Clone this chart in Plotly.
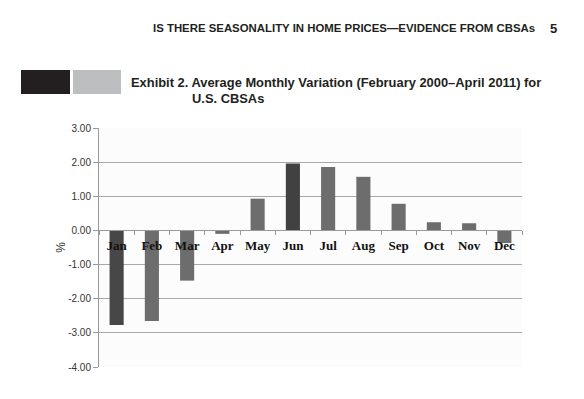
import plotly.graph_objects as go

months = ["Jan", "Feb", "Mar", "Apr", "May", "Jun", "Jul", "Aug", "Sep", "Oct", "Nov", "Dec"]
variation = [-2.77, -2.65, -1.47, -0.10, 0.93, 1.96, 1.86, 1.57, 0.78, 0.24, 0.21, -0.37]
bar_colors = ["#474747", "#6d6d6d", "#6d6d6d", "#6d6d6d", "#6d6d6d", "#414141",
              "#6d6d6d", "#6d6d6d", "#6d6d6d", "#6d6d6d", "#6d6d6d", "#6d6d6d"]
y_ticks = [3, 2, 1, 0, -1, -2, -3, -4]
y_tick_labels = ["3.00", "2.00", "1.00", "0.00", "-1.00", "-2.00", "-3.00", "-4.00"]

header = "IS THERE SEASONALITY IN HOME PRICES—EVIDENCE FROM CBSAs"
page_no = "5"
title_line1 = "Exhibit 2. Average Monthly Variation (February 2000–April 2011) for"
title_line2 = "U.S. CBSAs"

# page body has an 8px margin in the browser; build the figure to fit within it
OFF = 8
W, H = 584 - OFF, 399 - OFF
L, T = 99 - OFF, 128 - OFF
R = W - (522 - OFF)
B = H - (367 - OFF)
PW, PH = W - L - R, H - T - B

def px(x):
    return (x - OFF - L) / PW

def py(y):
    return (H - B - (y - OFF)) / PH

fig = go.Figure()
fig.add_trace(go.Bar(x=months, y=variation, marker=dict(color=bar_colors, line=dict(width=0)),
                     width=0.4, showlegend=False))

fig.update_layout(
    width=W, height=H,
    margin=dict(l=L, r=R, t=T, b=B),
    paper_bgcolor="white",
    plot_bgcolor="#fcfcfc",
    font=dict(family="Liberation Sans", color="#333333"),
    xaxis=dict(
        type="category",
        anchor="free",
        position=4 / 7,
        showline=True, linecolor="#9a9a9a", linewidth=1,
        ticks="outside", ticklen=4, tickcolor="#9a9a9a",
        tickson="boundaries",
        ticklabelstandoff=3,
        tickfont=dict(family="Liberation Serif", size=13, color="#111111", weight="bold"),
        showgrid=False,
        range=[-0.5, 11.5],
    ),
    yaxis=dict(
        range=[-4, 3],
        tickvals=y_ticks,
        ticktext=y_tick_labels,
        showgrid=True, gridcolor="#a8a8a8", gridwidth=1,
        zeroline=False,
        showline=True, linecolor="#9a9a9a", linewidth=1,
        ticks="outside", ticklen=5, tickcolor="#9a9a9a",
        tickfont=dict(size=10, color="#333333"),
        title=dict(text="%", font=dict(size=12, color="#333333"), standoff=0),
    ),
)

shapes = [
    dict(type="rect", xref="paper", yref="paper", x0=px(21), x1=px(70), y0=py(94), y1=py(70),
         fillcolor="#231f20", line=dict(width=0)),
    dict(type="rect", xref="paper", yref="paper", x0=px(73), x1=px(121), y0=py(94), y1=py(70),
         fillcolor="#bcbec0", line=dict(width=0)),
]
fig.update_layout(shapes=shapes)

fig.add_annotation(text=header, xref="paper", yref="paper", x=px(537), y=py(28),
                   xanchor="right", yanchor="middle", showarrow=False,
                   font=dict(family="Liberation Sans", size=11.4, color="#231f20", weight="bold"))
fig.add_annotation(text=page_no, xref="paper", yref="paper", x=px(553), y=py(28),
                   xanchor="center", yanchor="middle", showarrow=False,
                   font=dict(family="Liberation Sans", size=13, color="#231f20", weight="bold"))
fig.add_annotation(text=title_line1, xref="paper", yref="paper", x=px(129), y=py(82),
                   xanchor="left", yanchor="middle", showarrow=False,
                   font=dict(family="Liberation Sans", size=12.9, color="#231f20", weight="bold"))
fig.add_annotation(text=title_line2, xref="paper", yref="paper", x=px(190), y=py(98),
                   xanchor="left", yanchor="middle", showarrow=False,
                   font=dict(family="Liberation Sans", size=12.9, color="#231f20", weight="bold"))

fig.write_html("out.html")
